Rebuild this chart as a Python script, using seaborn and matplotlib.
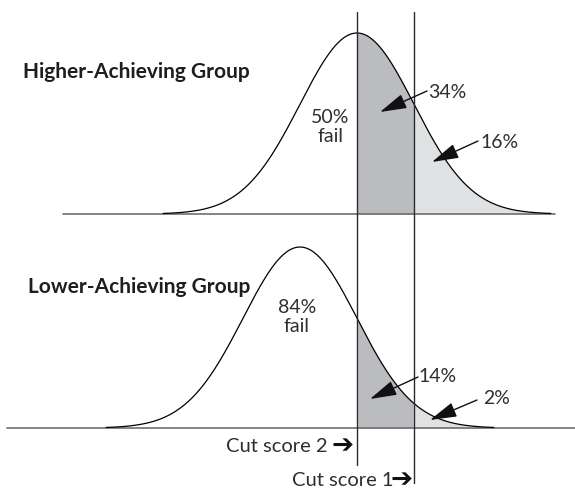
import numpy as np
import pandas as pd
import matplotlib
matplotlib.use("Agg")
import matplotlib.pyplot as plt
import seaborn as sns

# data (x in SD units, cut score 2 = 0)
groups = ["Higher-Achieving Group", "Lower-Achieving Group"]
group_means = [0.0, -1.0]
group_sd = 1.0
cut_scores = [1.0, 0.0]          # cut score 1, cut score 2
cut_labels = ["Cut score 1", "Cut score 2 "]
fail_labels = ["50%\nfail", "84%\nfail"]
band_labels = [["34%", "16%"], ["14%", "2%"]]

sns.set_theme(style="white")
plt.rcParams["font.family"] = ["Lato", "DejaVu Sans"]

W, H = 575, 492
fig = plt.figure(figsize=(W / 100, H / 100), dpi=100)
ax = fig.add_axes([0, 0, 1, 1])
x0, sx = 357, 57  # pixel position of x=0 and pixels per SD
ax.set_xlim(-x0 / sx, (W - x0) / sx)
ax.set_ylim(0, H)
ax.axis("off")


def px(x):
    return (x - x0) / sx


def py(y):
    return H - y


baselines = [py(214), py(428)]
base_extent = [(px(63), px(555)), (px(7), px(W))]
peak = 181
dark, light = "#bbbcc0", "#e0e1e3"
txt = "#2e2e2e"

for i, g in enumerate(groups):
    m, b = group_means[i], baselines[i]
    xs = np.linspace(m - 3.4 * group_sd, m + 3.4 * group_sd, 400)
    ys = b + peak * np.exp(-0.5 * ((xs - m) / group_sd) ** 2)
    df = pd.DataFrame({"x": xs, "y": ys})
    ax.plot(base_extent[i], [b, b], color="#6e6e6e", lw=1.2, zorder=1)
    between = (xs >= cut_scores[1]) & (xs <= cut_scores[0])
    above = xs >= cut_scores[0]
    ax.fill_between(xs[between], b, ys[between], color=dark, lw=0, zorder=0)
    ax.fill_between(xs[above], b, ys[above], color=light, lw=0, zorder=0)
    sns.lineplot(data=df, x="x", y="y", ax=ax, color="black", lw=0.9,
                 sort=False, zorder=3)

ax.set_xlabel("")
ax.set_ylabel("")

# cut score lines
ax.plot([cut_scores[1]] * 2, [py(12), py(465)], color="#2a2a2a", lw=1, zorder=4)
ax.plot([cut_scores[0]] * 2, [py(12), py(483)], color="#2a2a2a", lw=1, zorder=4)

# group titles
ax.text(px(23), py(72), groups[0], fontsize=15, fontweight="bold",
        ha="left", va="center", color="#1e1e1e")
ax.text(px(28), py(287), groups[1], fontsize=15, fontweight="bold",
        ha="left", va="center", color="#1e1e1e")

# fail labels
ax.text(px(330), py(127), fail_labels[0], fontsize=14, ha="center",
        va="center", color=txt, linespacing=1.1)
ax.text(px(297), py(317), fail_labels[1], fontsize=14, ha="center",
        va="center", color=txt, linespacing=1.1)

# band labels with arrows
label_pos = [[(428, 93), (480, 142)], [(418, 377), (483, 398)]]
arrow_pos = [[((427, 91), (380, 112)), ((478, 141), (432, 162))],
             [((418, 377), (370, 399)), ((477, 400), (430, 420))]]
for i in range(2):
    for j in range(2):
        lx, ly = label_pos[i][j]
        ax.text(px(lx), py(ly), band_labels[i][j], fontsize=14,
                ha="left", va="center", color=txt)
        (tx, ty), (hx, hy) = arrow_pos[i][j]
        ax.annotate("", xy=(px(hx), py(hy)), xytext=(px(tx), py(ty)),
                    arrowprops=dict(arrowstyle="-|>,head_length=1.5,head_width=0.42",
                                    mutation_scale=11, lw=1, color="#111111",
                                    shrinkA=0, shrinkB=0), zorder=5)

# cut score labels with heavy arrows
ax.text(px(333), py(446), cut_labels[1], fontsize=14.5, ha="right",
        va="center", color=txt)
ax.text(px(354), py(446), "\u2794", fontsize=19, fontweight="bold",
        family="DejaVu Sans", ha="right", va="center", color="#111111")
ax.text(px(393), py(480), cut_labels[0], fontsize=14.5, ha="right",
        va="center", color=txt)
ax.text(px(413), py(480), "\u2794", fontsize=19, fontweight="bold",
        family="DejaVu Sans", ha="right", va="center", color="#111111")

fig.savefig("out.png", dpi=100)
